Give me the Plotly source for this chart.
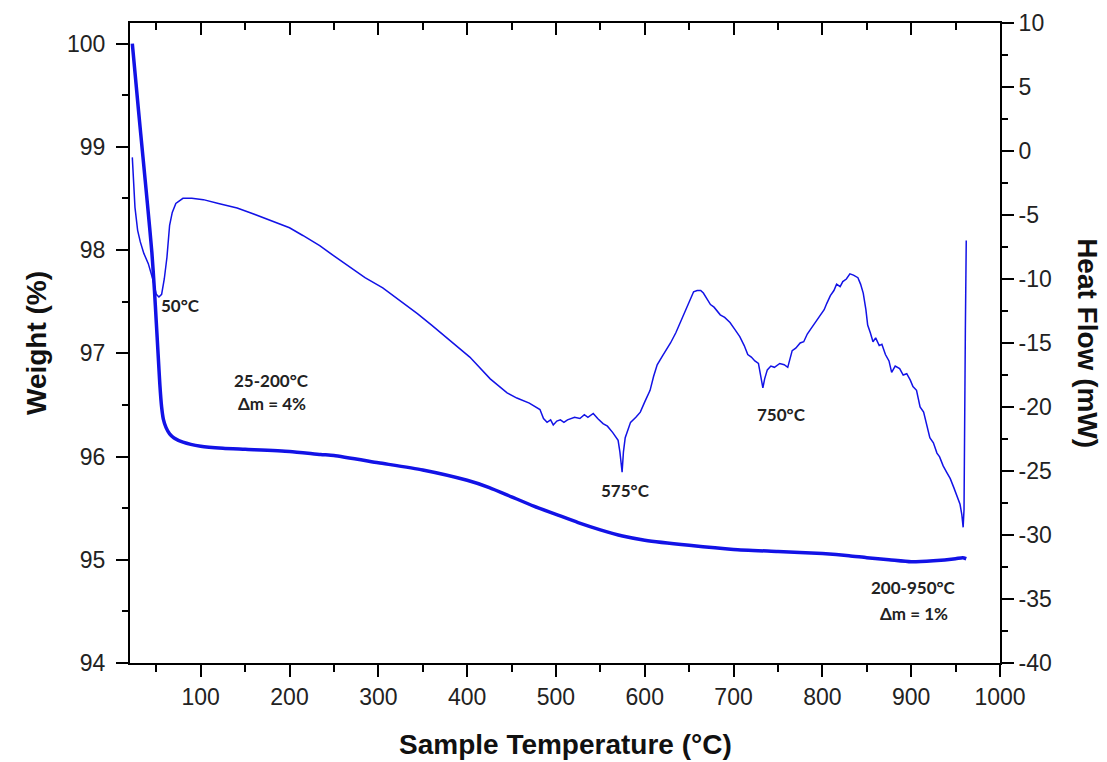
import plotly.graph_objects as go

# ---- data ----
weight_T = [23, 30, 35, 40, 45, 48, 50, 52, 54, 56, 58, 61, 65, 70, 80, 100, 125, 150, 200, 235, 250,
            300, 350, 400, 425, 450, 475, 500, 525, 550, 575, 600, 650, 700, 750, 800, 830, 850,
            875, 900, 925, 950, 958, 962]
weight_pct = [100.0, 99.35, 98.9, 98.45, 97.98, 97.6, 97.3, 97.0, 96.7, 96.48, 96.36, 96.28, 96.22,
              96.18, 96.14, 96.10, 96.08, 96.07, 96.05, 96.02, 96.01, 95.94, 95.87, 95.77, 95.70,
              95.61, 95.52, 95.44, 95.36, 95.29, 95.23, 95.19, 95.14, 95.10, 95.08, 95.06, 95.04,
              95.02, 95.00, 94.98, 94.99, 95.01, 95.02, 95.01]

heat_T = [23, 26, 29, 32, 36, 41, 46, 50, 53, 56, 59, 62, 65, 68, 72, 80, 90, 103, 120, 141, 155, 178,
          200, 215, 234, 250, 268, 285, 305, 325, 344, 360, 381, 403, 426, 445, 456, 470, 482, 486,
          490, 494, 497, 501, 505, 509, 513, 517, 521, 527, 532, 536, 542, 547, 553, 558, 564, 570,
          572, 574.5, 576, 578, 584, 590, 595, 600, 606, 610, 614, 620, 629, 635, 640, 646, 651, 655,
          659, 663, 666, 670, 674, 678, 682, 685, 690, 696, 701, 707, 712, 716, 720, 724, 728, 731,
          733, 735, 738, 742, 746, 752, 757, 761, 764, 766, 770, 775, 779, 783, 788, 794, 798, 802,
          805, 809, 813, 816, 820, 823, 827, 831, 835, 840, 843, 846, 849, 851, 854, 857, 860, 864,
          867, 871, 875, 878, 882, 887, 891, 895, 899, 902, 906, 910, 914, 918, 921, 925, 929, 932,
          936, 940, 944, 948, 952, 955, 957, 958.5, 959.5, 960, 961, 962]
heat_mW = [-0.5, -4.4, -6.2, -7.1, -8.0, -8.8, -10.0, -11.2, -11.4, -11.2, -10.0, -8.3, -5.8, -4.8,
           -4.1, -3.7, -3.7, -3.8, -4.1, -4.45, -4.8, -5.4, -6.0, -6.6, -7.4, -8.2, -9.1, -9.9, -10.7,
           -11.7, -12.7, -13.6, -14.8, -16.1, -17.8, -18.9, -19.3, -19.7, -20.2, -20.9, -21.2, -21.0,
           -21.4, -21.1, -21.0, -21.2, -21.0, -20.9, -20.8, -20.9, -20.6, -20.8, -20.5, -20.9, -21.3,
           -21.5, -22.0, -22.6, -23.5, -25.1, -23.5, -22.4, -21.2, -20.8, -20.4, -19.6, -18.7, -17.6,
           -16.7, -16.0, -15.0, -14.2, -13.4, -12.4, -11.5, -11.0, -10.9, -10.9, -11.1, -11.6, -12.0,
           -12.2, -12.5, -12.8, -13.0, -13.4, -13.9, -14.5, -15.2, -15.9, -16.1, -16.4, -16.6, -17.6,
           -18.5, -17.8, -17.1, -16.8, -16.9, -16.6, -16.7, -16.9, -16.2, -15.6, -15.4, -15.0, -14.9,
           -14.3, -13.8, -13.2, -12.8, -12.4, -11.9, -11.3, -10.9, -10.4, -10.6, -10.2, -10.0, -9.6,
           -9.7, -9.9, -10.4, -11.1, -12.4, -13.6, -14.2, -14.9, -14.6, -15.2, -15.1, -15.9, -16.4,
           -17.3, -16.8, -17.0, -17.5, -17.4, -17.9, -18.4, -18.7, -20.0, -20.4, -21.5, -22.4, -22.8,
           -23.6, -23.9, -24.6, -25.1, -25.6, -26.3, -27.0, -27.6, -28.4, -29.4, -28.0, -20.5, -14.0,
           -7.0]

x_ticks = [100, 200, 300, 400, 500, 600, 700, 800, 900, 1000]
w_ticks = [94, 95, 96, 97, 98, 99, 100]
h_ticks = [10, 5, 0, -5, -10, -15, -20, -25, -30, -35, -40]
h_labels = ["10", "5", "0", "-5", "-10", "-15", "-20", "-25", "-30", "-35", "-40"]

notes = [
    ("50°C", 77, -12.1, "y2"),
    ("575°C", 578, -26.55, "y2"),
    ("750°C", 754, -20.55, "y2"),
    ("25-200°C", 180, 96.74, "y"),
    ("Δm = 4%", 180, 96.51, "y"),
    ("200-950°C", 903, 94.73, "y"),
    ("Δm = 1%", 903, 94.48, "y"),
]

BLUE = "#1212e6"
TICKFONT = dict(family="Arial, Liberation Sans, sans-serif", size=23, color="#222")
TITLEFONT = dict(family="Arial, Liberation Sans, sans-serif", size=28, color="#111", weight="bold")

fig = go.Figure()
fig.add_trace(go.Scatter(x=weight_T, y=weight_pct, mode="lines",
                         line=dict(color=BLUE, width=3.5, shape="spline", smoothing=0.6),
                         xaxis="x", yaxis="y", showlegend=False))
fig.add_trace(go.Scatter(x=heat_T, y=heat_mW, mode="lines",
                         line=dict(color=BLUE, width=1.5),
                         xaxis="x2", yaxis="y2", showlegend=False))

xr = [20.4, 1000]
fig.update_layout(
    width=1099, height=754,
    margin=dict(l=122, r=107, t=15, b=99, autoexpand=False),
    paper_bgcolor="white", plot_bgcolor="white",
    xaxis=dict(range=xr, tickmode="array", tickvals=x_ticks, ticks="outside", ticklen=12,
               tickwidth=2, tickcolor="black", showline=True, linewidth=2, linecolor="black",
               showgrid=False, zeroline=False, tickfont=TICKFONT, automargin=False,
               minor=dict(tickmode="linear", tick0=0, dtick=50, ticks="outside", ticklen=7,
                          tickwidth=2, tickcolor="black")),
    xaxis2=dict(range=xr, overlaying="x", side="top", anchor="y", tickmode="array",
                tickvals=x_ticks, ticks="inside", ticklen=12, tickwidth=2, tickcolor="black",
                showline=True, linewidth=2, linecolor="black", showticklabels=False,
                showgrid=False, zeroline=False, automargin=False,
                minor=dict(tickmode="linear", tick0=0, dtick=50, ticks="inside", ticklen=7,
                           tickwidth=2, tickcolor="black")),
    yaxis=dict(range=[94, 100.2], tickmode="array", tickvals=w_ticks, ticks="outside",
               ticklen=12, tickwidth=2, tickcolor="black", showline=True, linewidth=2,
               linecolor="black", showgrid=False, zeroline=False, tickfont=TICKFONT,
               ticklabelstandoff=6, automargin=False,
               minor=dict(tickmode="linear", tick0=94, dtick=0.5, ticks="outside", ticklen=6,
                          tickwidth=2, tickcolor="black")),
    yaxis2=dict(range=[-40, 10], overlaying="y", side="right", anchor="x2", tickmode="array",
                tickvals=h_ticks, ticktext=h_labels, ticks="outside", ticklen=12, tickwidth=2,
                tickcolor="black", showline=True, linewidth=2, linecolor="black",
                showgrid=False, zeroline=False, tickfont=TICKFONT, automargin=False,
                minor=dict(tickmode="linear", tick0=0, dtick=2.5, ticks="outside", ticklen=6,
                           tickwidth=2, tickcolor="black")),
)

# axis titles as annotations for precise placement
fig.add_annotation(text="Weight (%)", xref="paper", yref="paper", x=-0.108, y=0.5,
                   xanchor="center", yanchor="middle", textangle=-90, showarrow=False,
                   font=TITLEFONT)
fig.add_annotation(text="Heat Flow (mW)", xref="paper", yref="paper", x=1.101, y=0.5,
                   xanchor="center", yanchor="middle", textangle=90, showarrow=False,
                   font=TITLEFONT)
fig.add_annotation(text="Sample Temperature (°C)", xref="paper", yref="paper", x=0.5,
                   y=-0.128, xanchor="center", yanchor="middle", showarrow=False, font=TITLEFONT)

for txt, tx, ty, yr in notes:
    fig.add_annotation(text=txt, x=tx, y=ty, xref="x", yref=yr, showarrow=False,
                       xanchor="center", yanchor="middle",
                       font=dict(family="Lato, Open Sans, sans-serif", size=17, color="#222",
                                 weight="bold"))

fig.write_html("out.html")
